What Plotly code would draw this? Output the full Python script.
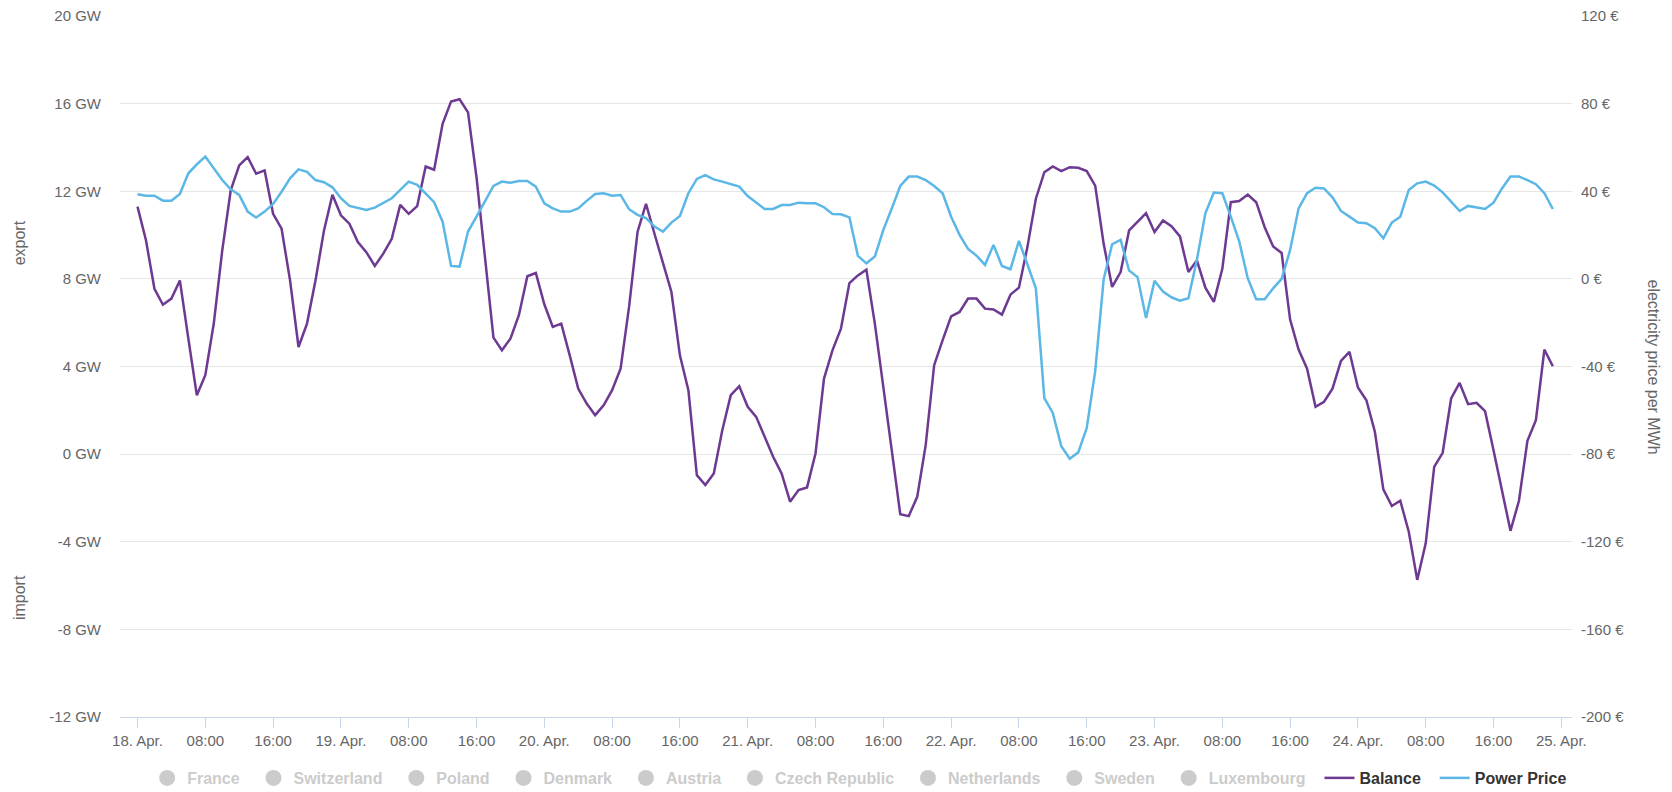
import pandas as pd
import plotly.graph_objects as go

# Hourly cross-border balance and day-ahead price, 18-24 April
start = pd.Timestamp("2024-04-18 00:00")
hours = pd.date_range(start, periods=168, freq="h")

balance_gw = [
    11.3, 9.76, 7.55, 6.82, 7.1, 7.93, 5.27, 2.69, 3.6, 5.96, 9.3, 12.04,
    13.18, 13.56, 12.8, 12.95, 10.97, 10.29, 7.93, 4.89, 5.96, 7.93, 10.2, 11.84,
    10.9, 10.52, 9.68, 9.22, 8.59, 9.15, 9.83, 11.38, 10.97, 11.32, 13.13, 12.98,
    15.08, 16.1, 16.2, 15.6, 12.64, 9.0, 5.32, 4.74, 5.27, 6.34, 8.12, 8.27,
    6.84, 5.81, 5.96, 4.51, 2.99, 2.31, 1.78, 2.23, 2.92, 3.9, 6.72, 10.14,
    11.43, 10.06, 8.77, 7.4, 4.51, 2.92, -0.96, -1.41, -0.88, 1.09, 2.69, 3.1,
    2.16, 1.7, 0.79, -0.12, -0.88, -2.17, -1.64, -1.52, 0.03, 3.45, 4.74, 5.73,
    7.81, 8.16, 8.42, 5.96, 3.07, 0.18, -2.74, -2.83, -1.95, 0.41, 4.06, 5.2,
    6.29, 6.49, 7.1, 7.1, 6.64, 6.6, 6.37, 7.28, 7.6, 9.45, 11.66, 12.87,
    13.13, 12.92, 13.1, 13.07, 12.92, 12.26, 9.6, 7.63, 8.31, 10.21, 10.59, 11.0,
    10.14, 10.67, 10.4, 9.94, 8.31, 8.84, 7.6, 6.95, 8.46, 11.5, 11.55, 11.85,
    11.5, 10.36, 9.48, 9.18, 6.14, 4.77, 3.9, 2.16, 2.39, 2.99, 4.26, 4.67,
    3.04, 2.46, 1.02, -1.61, -2.37, -2.13, -3.54, -5.74, -4.07, -0.58, 0.06, 2.54,
    3.25, 2.28, 2.34, 1.96, 0.18, -1.64, -3.5, -2.13, 0.61, 1.55, 4.77, 4.01,
]

price_eur = [
    38.6, 38.0, 38.0, 35.7, 35.7, 38.75, 48.2, 52.3, 55.8, 50.5, 45.1, 40.9,
    38.3, 30.7, 28.0, 30.7, 34.2, 39.8, 45.9, 50.0, 48.9, 45.1, 44.1, 41.8,
    36.8, 33.3, 32.5, 31.5, 32.5, 34.5, 36.8, 40.6, 44.4, 42.9, 38.75, 35.0,
    26.1, 5.9, 5.6, 21.6, 28.4, 35.3, 42.4, 44.4, 43.9, 44.7, 44.7, 42.1,
    34.5, 32.2, 30.7, 30.7, 32.2, 35.6, 38.75, 39.1, 38.0, 38.3, 31.8, 29.2,
    27.7, 23.9, 21.6, 25.7, 28.7, 39.1, 45.6, 47.4, 45.4, 44.4, 43.3, 42.1,
    37.8, 34.8, 31.9, 31.9, 33.7, 33.7, 34.8, 34.5, 34.5, 32.7, 29.6, 29.5,
    28.1, 10.5, 7.1, 10.2, 22.3, 32.2, 42.4, 46.7, 46.7, 45.1, 42.4, 39.1,
    28.4, 20.1, 13.7, 10.6, 6.4, 15.5, 5.9, 4.4, 17.3, 6.7, -4.3, -54.4,
    -61.2, -76.4, -82.1, -79.2, -68.1, -42.2, -0.2, 15.8, 17.8, 3.8, 0.8, -17.9,
    -0.9, -5.8, -8.4, -10.0, -8.8, 8.7, 29.9, 39.4, 39.1, 28.4, 17.0, 0.3,
    -9.3, -9.3, -4.3, 0.0, 13.2, 32.2, 39.1, 41.6, 41.3, 37.2, 31.0, 28.4,
    25.7, 25.4, 23.1, 18.5, 25.7, 28.4, 40.6, 43.6, 44.4, 42.6, 39.5, 35.3,
    31.0, 33.3, 32.5, 31.9, 34.8, 41.3, 46.7, 46.7, 45.1, 43.2, 39.1, 31.9,
]

countries = [
    "France", "Switzerland", "Poland", "Denmark", "Austria",
    "Czech Republic", "Netherlands", "Sweden", "Luxembourg",
]

x_tick_vals = pd.date_range(start, periods=22, freq="8h")
x_tick_text = [
    "18. Apr.", "08:00", "16:00", "19. Apr.", "08:00", "16:00",
    "20. Apr.", "08:00", "16:00", "21. Apr.", "08:00", "16:00",
    "22. Apr.", "08:00", "16:00", "23. Apr.", "08:00", "16:00",
    "24. Apr.", "08:00", "16:00", "25. Apr.",
]
gw_ticks = [-12, -8, -4, 0, 4, 8, 12, 16, 20]
gw_tick_text = [f"{v} GW" for v in gw_ticks]
eur_ticks = [-200, -160, -120, -80, -40, 0, 40, 80, 120]
eur_tick_text = [f"{v} €" for v in eur_ticks]

FONT = "Liberation Sans, Arial, Helvetica, sans-serif"
LABEL = "#666666"
PAD = "\u00a0\u00a0"

fig = go.Figure()

# switched-off country series only appear in the legend
for c in countries:
    fig.add_trace(go.Scatter(
        x=[hours[0]], y=[None], mode="markers", visible="legendonly",
        name=f"<span style='color:#999999'>{c}</span>{PAD}",
        marker=dict(color="#999999", size=16),
    ))

fig.add_trace(go.Scatter(
    x=hours, y=balance_gw, mode="lines", name=f"Balance{PAD}",
    line=dict(color="#6d3991", width=2.5), yaxis="y",
))
fig.add_trace(go.Scatter(
    x=hours, y=price_eur, mode="lines", name="Power Price",
    line=dict(color="#5bb7e6", width=2.5), yaxis="y2",
))

x_lo = start - pd.Timedelta(hours=2.065)
x_hi = start + pd.Timedelta(hours=169.26)

fig.update_layout(
    width=1672, height=792,
    margin=dict(l=120, r=100, t=16, b=75, autoexpand=False),
    paper_bgcolor="white", plot_bgcolor="white",
    font=dict(family=FONT, size=15, color=LABEL),
    showlegend=True,
    legend=dict(
        orientation="h", x=1.0001, xanchor="right", y=-0.087, yanchor="middle",
        font=dict(family=FONT, size=16, color="#333333", weight="bold"),
        bgcolor="rgba(0,0,0,0)", itemclick=False, itemdoubleclick=False,
    ),
    xaxis=dict(
        range=[x_lo, x_hi], tickvals=x_tick_vals, ticktext=x_tick_text,
        ticks="outside", ticklen=10, tickcolor="#ccd6eb", tickwidth=1,
        showline=True, linecolor="#ccd6eb", linewidth=1,
        showgrid=False, zeroline=False,
        tickfont=dict(family=FONT, size=15, color=LABEL),
    ),
    yaxis=dict(
        range=[-12, 20], tickvals=gw_ticks, ticktext=gw_tick_text,
        showgrid=True, gridcolor="#e6e6e6", gridwidth=1,
        zeroline=False, showline=False, ticks="",
        ticklabelstandoff=18,
        tickfont=dict(family=FONT, size=15, color=LABEL),
    ),
    yaxis2=dict(
        range=[-200, 120], tickvals=eur_ticks, ticktext=eur_tick_text,
        overlaying="y", side="right",
        showgrid=False, zeroline=False, showline=False, ticks="",
        ticklabelstandoff=8,
        tickfont=dict(family=FONT, size=15, color=LABEL),
    ),
    annotations=[
        dict(text="export", xref="paper", yref="paper", x=-0.0696, y=0.677,
             textangle=-90, showarrow=False, xanchor="center", yanchor="middle",
             font=dict(family=FONT, size=16, color=LABEL)),
        dict(text="import", xref="paper", yref="paper", x=-0.0696, y=0.171,
             textangle=-90, showarrow=False, xanchor="center", yanchor="middle",
             font=dict(family=FONT, size=16, color=LABEL)),
        dict(text="electricity price per MWh", xref="paper", yref="paper",
             x=1.0558, y=0.5, textangle=90, showarrow=False,
             xanchor="center", yanchor="middle",
             font=dict(family=FONT, size=16, color=LABEL)),
    ],
)

fig.write_html("out.html")
